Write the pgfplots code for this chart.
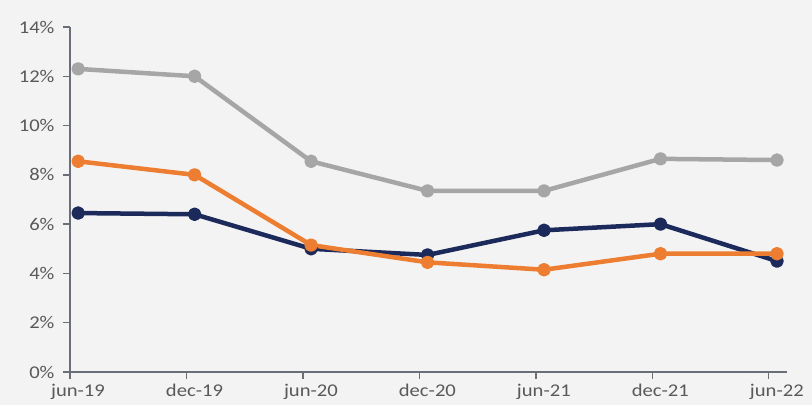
\documentclass[border=0pt]{standalone}
\usepackage{fontspec}
\setmainfont[FakeStretch=1.15]{Carlito}
\usepackage{pgfplots}
\pgfplotsset{compat=1.18}
\usetikzlibrary{backgrounds}
\definecolor{sergray}{HTML}{A6A6A6}
\definecolor{serorange}{HTML}{ED7D31}
\definecolor{sernavy}{HTML}{1B2A5A}
\definecolor{axisgray}{HTML}{6A6E78}
\definecolor{labelgray}{HTML}{595959}
\definecolor{bggray}{HTML}{F3F3F3}
\begin{document}
\begin{tikzpicture}
\begin{axis}[
    name=ax,
    scale only axis,
    width=717bp, height=345bp,
    xmin=-0.07, xmax=6.086,
    ymin=0, ymax=14,
    axis lines*=left,
    axis line style={-, draw=axisgray, line width=1.3bp},
    % ticks sit a little left of the points, as in the source
    xtick={-0.07,0.93,1.93,2.93,3.93,4.93,5.93},
    xticklabels={jun-19,dec-19,jun-20,dec-20,jun-21,dec-21,jun-22},
    ytick={0,2,...,14},
    yticklabel={\pgfmathprintnumber{\tick}\%},
    /pgf/number format/assume math mode=true,
    tick align=outside,
    major tick length=7bp,
    every tick/.style={draw=axisgray, line width=1.3bp},
    ticklabel style={font=\fontsize{18}{20}\selectfont, text=labelgray},
    yticklabel style={xshift=-5bp},
    xticklabel style={yshift=-2bp, xshift=8bp},
    every axis plot/.append style={line width=4.5bp, mark=*, mark size=4.5bp, line join=round},
    clip=false,
    extra description/.code={
        \foreach \t in {-0.07,0.93,1.93,2.93,3.93,4.93,5.93}
            \draw[axisgray, line width=1.3bp] (axis cs:\t,0) -- ++(0,-7bp);
    },
]
\addplot[sergray, mark options={fill=sergray}] coordinates {
    (0,12.3)(1,12.0)(2,8.55)(3,7.35)(4,7.35)(5,8.65)(6,8.6)
};
\addplot[sernavy, mark options={fill=sernavy}] coordinates {
    (0,6.45)(1,6.4)(2,5.0)(3,4.75)(4,5.75)(5,6.0)(6,4.5)
};
\addplot[serorange, mark options={fill=serorange}] coordinates {
    (0,8.55)(1,8.0)(2,5.15)(3,4.45)(4,4.15)(5,4.8)(6,4.8)
};
\end{axis}
\pgfresetboundingbox
\path (ax.south west) ++(-70bp,-33bp) coordinate (bl) rectangle ++(812bp,405bp) coordinate (tr);
\begin{scope}[on background layer]
\fill[bggray] (bl) rectangle (tr);
\end{scope}
\end{tikzpicture}
\end{document}
